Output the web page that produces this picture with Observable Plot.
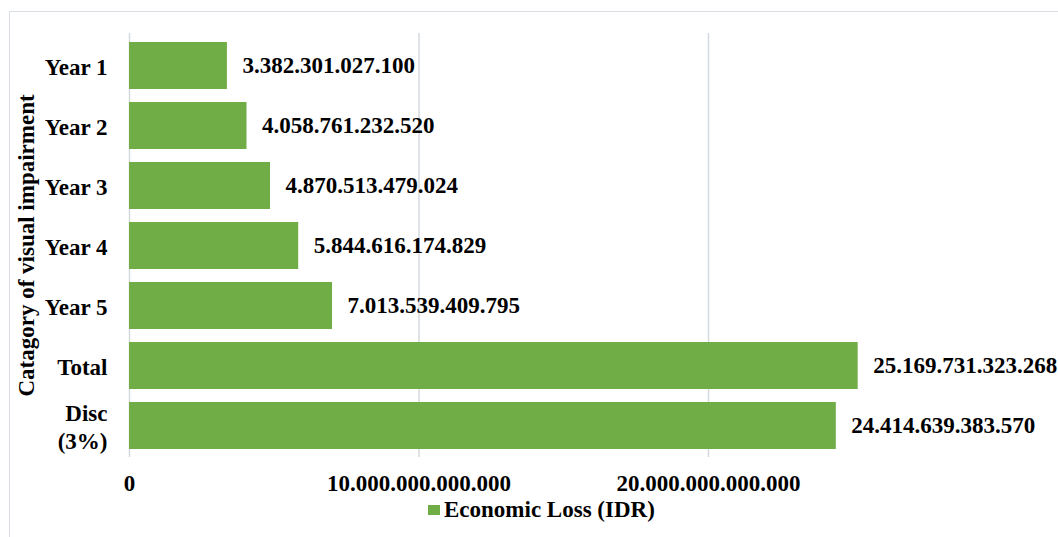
<!DOCTYPE html>
<html>
<head>
<meta charset="utf-8">
<script src="https://cdn.jsdelivr.net/npm/d3@7"></script>
<script src="https://cdn.jsdelivr.net/npm/@observablehq/plot@0.6"></script>
<style>
  html, body { margin: 0; padding: 0; background: #fff; }
  #wrap { position: relative; width: 1058px; height: 537px; overflow: hidden; background: #fff;
    font-family: "Liberation Serif", "Times New Roman", serif; font-weight: bold; color: #000; }
  #frame { position: absolute; left: 9px; top: 11px; width: 1100px; height: 600px;
    border-top: 1.5px solid #dadfe6; border-left: 1.5px solid #dadfe6; pointer-events: none; z-index: 2; }
  #legend { display: flex; align-items: center; justify-content: flex-start; padding-left: 428px;
    height: 24px; box-sizing: border-box; font-size: 23px; line-height: 23px; }
  #legend .sw { width: 12px; height: 10px; background: #70ad47; margin-right: 4px; margin-top: 1px; }
  svg { background: transparent !important; }
</style>
</head>
<body>
<div id="wrap">
  <div id="chart"></div>
  <div id="legend"><span class="sw"></span><span id="legtext"></span></div>
  <div id="frame"></div>
</div>
<script>
const categories = ["Year 1", "Year 2", "Year 3", "Year 4", "Year 5", "Total", "Disc\n(3%)"];
const values = [3382301027100, 4058761232520, 4870513479024, 5844616174829, 7013539409795, 25169731323268, 24414639383570];
const xTicks = [0, 10000000000000, 20000000000000];
const xMax = 30000000000000;
const seriesName = "Economic Loss (IDR)";
const yTitle = "Catagory of visual impairment";

const data = categories.map((c, i) => ({category: c, value: values[i]}));
const loc = d3.formatLocale({decimal: ",", thousands: ".", grouping: [3], currency: ["", ""]});
const fmt = loc.format(",d");

document.getElementById("legtext").textContent = seriesName;

const font = '"Liberation Serif", "Times New Roman", serif';
const plot = Plot.plot({
  width: 1058,
  height: 497,
  marginLeft: 129,
  marginRight: 60.5,
  marginTop: 33,
  marginBottom: 40,
  style: {fontFamily: font, fontWeight: "bold", fontSize: "23px", color: "#000", background: "transparent"},
  x: {domain: [0, xMax], ticks: xTicks},
  y: {domain: categories, paddingInner: 0.22, paddingOuter: 0.11},
  marks: [
    Plot.gridX(xTicks, {stroke: "#d5dae1", strokeOpacity: 1, strokeWidth: 1.5}),
    Plot.barX(data, {x: "value", y: "category", fill: "#70ad47"}),
    Plot.text(data, {x: "value", y: "category", text: d => fmt(d.value), textAnchor: "start", dx: 15,
      fill: "#000", fontSize: 23, fontWeight: "bold"}),
    Plot.axisX(xTicks, {tickSize: 0, tickPadding: 17, tickFormat: fmt, label: null, fontSize: 23}),
    Plot.axisY({tickSize: 0, tickPadding: 22, label: yTitle, labelAnchor: "center", labelOffset: 112,
      fontSize: 23, lineHeight: 1.2})
  ]
});
document.getElementById("chart").appendChild(plot);
</script>
</body>
</html>
